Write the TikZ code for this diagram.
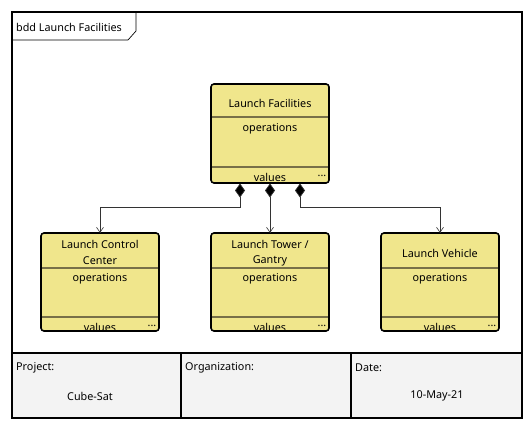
\documentclass[tikz,border=0pt]{standalone}
\usepackage{fontspec}
\setmainfont{Noto Sans}
\usetikzlibrary{arrows.meta}
\definecolor{blockfill}{RGB}{240,230,140}
\definecolor{divline}{RGB}{120,112,72}
\definecolor{footfill}{RGB}{243,243,243}
\tikzset{
  blk/.style={draw=black, line width=1.6pt, fill=blockfill, rounded corners=3pt},
  txt/.style={font=\fontsize{10.8}{12}\selectfont, inner sep=0pt},
  divl/.style={draw=divline, line width=1.3pt},
  conn/.style={draw=black!80, line width=0.7pt},
  comp/.style={conn, {Diamond[length=14pt,width=10pt,fill=black]}-},
  arr/.style={-{Straight Barb[length=5pt,width=7pt,line width=0.6pt]}}
}
\begin{document}
\begin{tikzpicture}[x=1pt,y=-1pt]
\useasboundingbox (0,0) rectangle (532,430);
% frame
\fill[footfill] (12,353) rectangle (522,418);
\draw[line width=1.6pt] (12,12) rectangle (522,418);
\draw[line width=1.6pt] (12,353) -- (522,353);
\draw[line width=1.6pt] (181,353) -- (181,418);
\draw[line width=1.6pt] (351,353) -- (351,418);
\draw[line width=0.7pt] (12,40) -- (128,40) -- (136,31) -- (136,12);
\node[txt, anchor=west] (frl) at (16,27) {bdd Launch Facilities};
% footer texts
\node[txt, anchor=west] (pj) at (16,368) {Project:};
\node[txt] (pjv) at (90,396) {Cube-Sat};
\node[txt, anchor=west] (org) at (185,368) {Organization:};
\node[txt, anchor=west] (dt) at (355,368) {Date:};
\node[txt] (dtv) at (437,396) {10-May-21};
% top block
\path[blk] (211,84) rectangle (329,183);
\node (top) [minimum width=118pt, minimum height=99pt, inner sep=0pt] at (270,133.5) {};
\draw[divl] (211.8,117) -- (328.2,117);
\draw[divl] (211.8,167) -- (328.2,167);
\node[txt] (topt) at (270,103) {Launch Facilities};
\node[txt] (topo) at (270,128.5) {operations};
\node[txt] (topv) at (270,177) {values};
\node[txt] (topd) at (322,176) {...};
% children
\foreach \n/\cx in {a/100,b/270,c/440}{
  \path[blk] (\cx-59,233) rectangle (\cx+59,331);
  \node (\n) [minimum width=118pt, minimum height=98pt, inner sep=0pt] at (\cx,282) {};
  \draw[divl] (\cx-58.2,268) -- (\cx+58.2,268);
  \draw[divl] (\cx-58.2,317) -- (\cx+58.2,317);
  \node[txt] (\n o) at (\cx,278.5) {operations};
  \node[txt] (\n v) at (\cx,327) {values};
  \node[txt] (\n d) at (\cx+52,326) {...};
}
\node[txt] (at1) at (100,244.5) {Launch Control};
\node[txt] (at2) at (100,261) {Center};
\node[txt] (bt1) at (270,244.5) {Launch Tower /};
\node[txt] (bt2) at (270,261) {Gantry};
\node[txt] (ct) at (440,253) {Launch Vehicle};
% connectors
\coordinate (s1) at (240,183.5);
\coordinate (s2) at (270,183.5);
\coordinate (s3) at (300,183.5);
\draw[comp] (s1) -- (240,207) -| (a.north);
\draw[comp] (s2) -- (b.north);
\draw[comp] (s3) -- (300,207) -| (c.north);
\draw[conn, arr] (100,215) -- (a.north);
\draw[conn, arr] (270,215) -- (b.north);
\draw[conn, arr] (440,215) -- (c.north);
\end{tikzpicture}
\end{document}
